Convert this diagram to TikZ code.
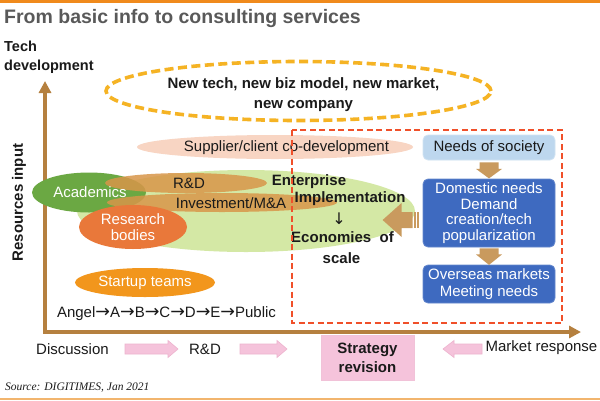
\documentclass[tikz,border=0pt]{standalone}
\usepackage{fontspec}
\setmainfont{Liberation Sans}
\newfontfamily\srcfont{Liberation Serif}
\newfontfamily\symfont{DejaVu Sans}
\usetikzlibrary{shapes.geometric,calc,arrows.meta}
\definecolor{topline}{HTML}{F08A1C}
\definecolor{botline}{HTML}{F2B56E}
\definecolor{titlegray}{HTML}{595959}
\definecolor{txt}{HTML}{1A1A1A}
\definecolor{axiscol}{HTML}{B5803F}
\definecolor{dashgold}{HTML}{F5B324}
\definecolor{peach}{HTML}{F8D5C3}
\definecolor{lgreen}{HTML}{D4E8A5}
\definecolor{acadgreen}{HTML}{6BA843}
\definecolor{brownell}{HTML}{D8964A}
\definecolor{resorange}{HTML}{E9783A}
\definecolor{startorange}{HTML}{F2961C}
\definecolor{reddash}{HTML}{F0502A}
\definecolor{needsblue}{HTML}{BDD7EE}
\definecolor{darkblue}{HTML}{3E6AC0}
\definecolor{brownarrow}{HTML}{C99A5E}
\definecolor{pinkfill}{HTML}{F5C3DB}
\definecolor{pinkdraw}{HTML}{EDB3CE}
\newcommand\rightArrowShape[3]{%
  \path[#3] ($(#1)+(0,-5)$) -- ($(#2)+(-10,-5)$) -- ($(#2)+(-10,-8.5)$) -- (#2)
    -- ($(#2)+(-10,8.5)$) -- ($(#2)+(-10,5)$) -- ($(#1)+(0,5)$) -- cycle;}
\newcommand\leftArrowShape[3]{%
  \path[#3] ($(#1)+(0,-5)$) -- ($(#2)+(11,-5)$) -- ($(#2)+(11,-8.5)$) -- (#2)
    -- ($(#2)+(11,8.5)$) -- ($(#2)+(11,5)$) -- ($(#1)+(0,5)$) -- cycle;}
\newcommand\rarr{{\symfont\fontsize{17.5}{16}\selectfont →}}
\tikzset{
  txtnode/.style={font=\fontsize{15}{16}\selectfont, text=txt, inner sep=0pt, align=center},
  boldtxt/.style={txtnode, font=\bfseries\fontsize{15}{16}\selectfont},
  ell/.style={ellipse, inner sep=0pt, draw=none},
  bluebox/.style={rectangle, rounded corners=5, fill=darkblue, draw=darkblue!80!white, line width=0.8,
     inner sep=0pt, text=white, font=\fontsize{15}{15.5}\selectfont, align=center, minimum width=132},
  pinkarr/.style={fill=pinkfill, draw=pinkdraw, line width=0.6},
  brownarr/.style={fill=brownarrow},
}
\begin{document}
\begin{tikzpicture}[x=1pt,y=-1pt]
\useasboundingbox (0,0) rectangle (600,400);
\fill[white] (0,0) rectangle (600,400);
\fill[topline] (0,0) rectangle (600,2.5);
\fill[botline] (0,397.5) rectangle (600,400);

\node[anchor=west, font=\bfseries\fontsize{19.5}{22}\selectfont, text=titlegray, inner sep=0pt] (title) at (4,18.5) {From basic info to consulting services};
\node[anchor=west, align=left, font=\bfseries\fontsize{14.5}{19}\selectfont, text=txt, inner sep=0pt] (techdev) at (4,57) {Tech\\development};
\node[rotate=90, font=\bfseries\fontsize{15}{16}\selectfont, text=txt, inner sep=0pt] (resin) at (19,202.5) {Resources input};

% axes
\coordinate (origin) at (45,332);
\coordinate (ytip) at (45,81);
\coordinate (xtip) at (581,332);
\draw[axiscol, line width=3.2, {Triangle[width=12,length=12]}-{Triangle[width=12,length=12]}] (ytip) -- (origin) -- (xtip);

% dashed top ellipse
\node[ell, draw=dashgold, line width=3.6, dash pattern=on 9 off 4.5, minimum width=385, minimum height=59] (newtech) at (298.5,91) {};
\node[boldtxt, font=\bfseries\fontsize{15}{20}\selectfont] (newtechtxt) at (303.5,95) {New tech, new biz model, new market,\\new company};

% supplier
\node[ell, fill=peach, minimum width=276, minimum height=24] (supplier) at (275,147) {};
\node[txtnode] (suppliertxt) at (286.5,148) {Supplier/client co-development};

% green
\node[ell, fill=lgreen, minimum width=338, minimum height=82] (green) at (246,211) {};
\node[ell, fill=acadgreen, minimum width=114, minimum height=40] (acad) at (89,192.5) {};
\node[ell, fill=brownell, fill opacity=0.85, minimum width=162, minimum height=20] (rdell) at (186,183) {};
\node[ell, fill=brownell, fill opacity=0.85, minimum width=230, minimum height=19] (invell) at (222,202.5) {};
\node[txtnode, text=white] (acadtxt) at (90,192.5) {Academics};
\node[txtnode] (rdtxt) at (189,183) {R\&D};
\node[txtnode] (invtxt) at (231,203) {Investment/M\&A};
\node[ell, fill=resorange, minimum width=108, minimum height=44] (resb) at (133,227) {};
\node[txtnode, text=white] (resbtxt) at (133,227.5) {Research\\bodies};
\node[ell, fill=startorange, minimum width=140, minimum height=29] (startup) at (145,282.5) {};
\node[txtnode, text=white] (startuptxt) at (145,283) {Startup teams};
\node[txtnode] (angel) at (166.5,314) {Angel\rarr A\rarr B\rarr C\rarr D\rarr E\rarr Public};

% enterprise text
\node[boldtxt] (ent1) at (309,182) {Enterprise};
\node[boldtxt] (ent2) at (350,198.5) {Implementation};
\node[boldtxt, font=\symfont\fontsize{16}{16}\selectfont] (ent3) at (339,219) {↓};
\node[boldtxt] (ent4) at (342.5,237) {Economies\ \ of};
\node[boldtxt] (ent5) at (341.5,258) {scale};

% red dashed rectangle
\draw[reddash, line width=1.3, dash pattern=on 6 off 3.5] (292,130) rectangle (562,323);

% right boxes
\node[rectangle, rounded corners=5, fill=needsblue, draw=needsblue!70!white, line width=0.8, minimum width=132, minimum height=25, inner sep=0pt, font=\fontsize{15}{16}\selectfont, text=txt] (needs) at (489,147.5) {Needs of society};
\node[bluebox, minimum height=68] (dom) at (489,213) {Domestic needs\\Demand\\creation/tech\\popularization};
\node[bluebox, minimum height=38, font=\fontsize{15}{16.5}\selectfont] (over) at (489,284) {Overseas markets\\Meeting needs};

% brown down arrows
\fill[brownarr, shift={(needs.south)}] (-9.5,2) -- (9.5,2) -- (9.5,8.5) -- (13,8.5) -- (0,18) -- (-13,8.5) -- (-9.5,8.5) -- cycle;
\fill[brownarr, shift={(dom.south)}] (-9.5,1) -- (9.5,1) -- (9.5,7) -- (13,7) -- (0,17.5) -- (-13,7) -- (-9.5,7) -- cycle;
% striped left arrow
\fill[brownarr, shift={(dom.west)}] (-40,7) -- (-21,-10) -- (-21,-1) -- (-10,-1) -- (-10,15) -- (-21,15) -- (-21,24) -- cycle;
\fill[brownarr, shift={(dom.west)}] (-9,-1) rectangle (-6.5,15);
\fill[brownarr, shift={(dom.west)}] (-5.5,-1) rectangle (-3.5,15);

% bottom row
\node[txtnode] (disc) at (72.5,349) {Discussion};
\node[txtnode] (rdb) at (205,349) {R\&D};
\node[rectangle, fill=pinkfill, draw=pinkdraw!80!white, line width=0.8, minimum width=93, minimum height=45, inner sep=0pt, font=\bfseries\fontsize{15}{19}\selectfont, text=txt, align=center] (strat) at (367.5,357.5) {Strategy\\revision};
\node[txtnode] (market) at (541.5,348) {Market response};
\coordinate (p1s) at (125,349); \coordinate (p1e) at (178,349);
\coordinate (p2s) at (240,349); \coordinate (p2e) at (287,349);
\coordinate (p3s) at (482,349); \coordinate (p3e) at (443,349);
\rightArrowShape{p1s}{p1e}{pinkarr}
\rightArrowShape{p2s}{p2e}{pinkarr}
\leftArrowShape{p3s}{p3e}{pinkarr}

\node[anchor=west, inner sep=0pt, font=\srcfont\itshape\fontsize{11.5}{13}\selectfont, text=txt] (source) at (5,388) {Source: DIGITIMES, Jan 2021};
\end{tikzpicture}
\end{document}
